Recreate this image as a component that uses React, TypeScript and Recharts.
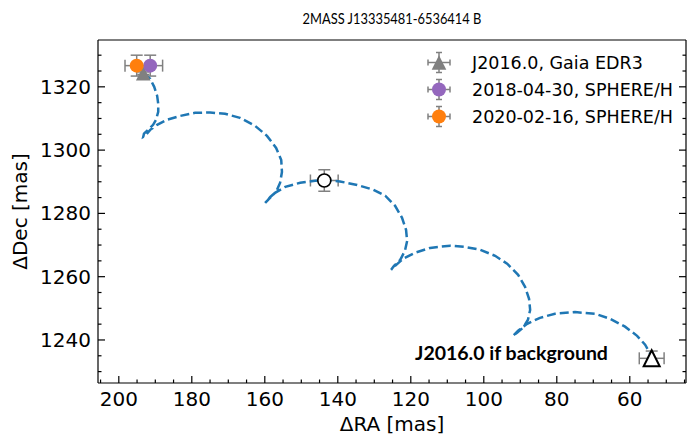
import { ErrorBar, Legend, Scatter, ScatterChart, XAxis, YAxis } from "recharts";

const TITLE = "2MASS J13335481-6536414 B";
const X_LABEL = "ΔRA [mas]";
const Y_LABEL = "ΔDec [mas]";
const NOTE = "J2016.0 if background";

const X_DOMAIN = [44.6, 205.7];
const Y_DOMAIN = [1226.4, 1334.8];
const X_TICKS = [
  205, 200, 195, 190, 185, 180, 175, 170, 165, 160, 155, 150, 145, 140, 135, 130, 125,
  120, 115, 110, 105, 100, 95, 90, 85, 80, 75, 70, 65, 60, 55, 50, 45,
];
const Y_TICKS = [
  1230, 1235, 1240, 1245, 1250, 1255, 1260, 1265, 1270, 1275, 1280, 1285, 1290, 1295,
  1300, 1305, 1310, 1315, 1320, 1325, 1330,
];

// background track (dashed)
const TRACK_RA = [
  193.3, 191.4, 190.3, 189.5, 189.2, 189.2, 189.8, 190.6, 192.0, 193.1, 193.3, 192.8,
  191.4, 189.5, 186.8, 183.2, 179.1, 175.0, 170.9, 166.8, 162.7, 159.4, 156.9, 155.5,
  155.3, 155.8, 156.9, 158.5, 159.9, 159.1, 157.2, 154.4, 150.3, 146.2, 143.8, 139.4,
  134.7, 130.3, 127.0, 124.3, 122.4, 121.3, 121.0, 121.6, 122.9, 124.6, 125.4, 124.3,
  122.1, 118.8, 114.7, 109.2, 105.1, 101.0, 96.9, 93.6, 90.6, 88.7, 87.6, 87.3, 87.9,
  89.2, 90.9, 92.0, 90.6, 88.1, 84.6, 80.5, 75.0, 69.5, 65.4, 61.3, 58.0, 55.8, 54.2,
];
const TRACK_DEC = [
  1324.3, 1322.5, 1320.0, 1317.2, 1314.6, 1312.1, 1309.6, 1308.0, 1306.4, 1305.2, 1304.2,
  1304.5, 1306.4, 1308.0, 1309.6, 1310.8, 1311.8, 1311.9, 1311.5, 1310.2, 1307.7, 1304.5,
  1300.7, 1296.9, 1293.1, 1289.7, 1286.8, 1285.2, 1283.3, 1284.3, 1286.5, 1288.4, 1289.7,
  1290.3, 1290.5, 1290.1, 1289.0, 1287.5, 1285.6, 1282.4, 1278.6, 1274.8, 1271.3, 1268.2,
  1265.3, 1263.4, 1262.2, 1263.4, 1265.7, 1267.6, 1269.1, 1269.8, 1269.4, 1268.5, 1266.6,
  1264.1, 1260.6, 1256.8, 1253.0, 1249.5, 1246.4, 1243.9, 1242.3, 1241.3, 1242.9, 1245.1,
  1247.0, 1248.3, 1248.8, 1248.3, 1246.7, 1244.2, 1241.3, 1238.5, 1235.3,
];

const GAIA = [{ ra: 193.3, dec: 1324.3, raErr: 0.4, decErr: 0.4 }];
const SPHERE_2018 = [{ ra: 191.4, dec: 1326.7, raErr: 3.4, decErr: 3.3 }];
const SPHERE_2020 = [{ ra: 195.1, dec: 1326.7, raErr: 3.2, decErr: 3.3 }];
const BG_2018 = [{ ra: 143.7, dec: 1290.4, raErr: 3.8, decErr: 3.4 }];
const BG_2016 = [{ ra: 54.0, dec: 1234.2, raErr: 3.4, decErr: 2.3 }];

const LEGEND_NAMES = ["J2016.0, Gaia EDR3", "2018-04-30, SPHERE/H", "2020-02-16, SPHERE/H"];

const track = TRACK_RA.map((ra, i) => ({ ra, dec: TRACK_DEC[i] }));

const BLUE = "#1f77b4";
const GREY = "#808080";
const PURPLE = "#9467bd";
const ORANGE = "#ff7f0e";

const isMajor = (v: number) => v % 20 === 0;

// inward ticks, labels only on bottom / left
const makeTick = (side: "bottom" | "top" | "left" | "right") => (props: any) => {
  const { x, y, payload } = props;
  const v = payload.value;
  const len = isMajor(v) ? 7 : 3.5;
  if (side === "bottom" || side === "top") {
    const d = side === "bottom" ? -len : len;
    return (
      <g>
        <line x1={x} x2={x} y1={y} y2={y + d} stroke="#000" strokeWidth={1.2} />
        {side === "bottom" && isMajor(v) && (
          <text x={x} y={y + 9} dy="0.71em" textAnchor="middle" fontSize={20} fill="#000">
            {v}
          </text>
        )}
      </g>
    );
  }
  const d = side === "left" ? len : -len;
  return (
    <g>
      <line x1={x} x2={x + d} y1={y} y2={y} stroke="#000" strokeWidth={1.2} />
      {side === "left" && isMajor(v) && (
        <text x={x - 7} y={y} dy="0.355em" textAnchor="end" fontSize={20} fill="#000">
          {v}
        </text>
      )}
    </g>
  );
};

const Nothing = () => <g />;

const FilledTriangle = ({ cx, cy }: any) => (
  <polygon
    points={`${cx},${cy - 7.3} ${cx - 7.3},${cy + 7.3} ${cx + 7.3},${cy + 7.3}`}
    fill={GREY}
  />
);

const OpenTriangle = ({ cx, cy }: any) => (
  <polygon
    points={`${cx},${cy - 8} ${cx - 8},${cy + 8} ${cx + 8},${cy + 8}`}
    fill="#fff"
    stroke="#000"
    strokeWidth={2}
  />
);

const dot = (fill: string, stroke?: string) => ({ cx, cy }: any) => (
  <circle cx={cx} cy={cy} r={stroke ? 6.5 : 7} fill={fill} stroke={stroke} strokeWidth={1.6} />
);

const legendMarker = (i: number) => {
  const cx = 14;
  const cy = 13.5;
  const bars = (
    <g stroke={GREY} strokeWidth={1.5}>
      <line x1={cx - 11} x2={cx + 11} y1={cy} y2={cy} />
      <line x1={cx - 11} x2={cx - 11} y1={cy - 3} y2={cy + 3} />
      <line x1={cx + 11} x2={cx + 11} y1={cy - 3} y2={cy + 3} />
      <line x1={cx} x2={cx} y1={cy - 10} y2={cy + 10} />
      <line x1={cx - 3} x2={cx + 3} y1={cy - 10} y2={cy - 10} />
      <line x1={cx - 3} x2={cx + 3} y1={cy + 10} y2={cy + 10} />
    </g>
  );
  return (
    <svg width={47} height={27}>
      {bars}
      {i === 0 && <FilledTriangle cx={cx} cy={cy} />}
      {i === 1 && <circle cx={cx} cy={cy} r={7} fill={PURPLE} />}
      {i === 2 && <circle cx={cx} cy={cy} r={7} fill={ORANGE} />}
    </svg>
  );
};

const renderLegend = () => (
  <div>
    {LEGEND_NAMES.map((name, i) => (
      <div key={name} style={{ display: "flex", alignItems: "center", height: 27 }}>
        {legendMarker(i)}
        <span style={{ fontSize: 17.5, whiteSpace: "nowrap", color: "#000" }}>{name}</span>
      </div>
    ))}
  </div>
);

const errorBars = () => [
  <ErrorBar key="ex" dataKey="raErr" direction="x" width={6} stroke={GREY} strokeWidth={1.5} />,
  <ErrorBar key="ey" dataKey="decErr" direction="y" width={6} stroke={GREY} strokeWidth={1.5} />,
];

export default function App() {
  return (
    <div
      style={{
        position: "absolute",
        left: 0,
        top: 0,
        width: 689,
        height: 435,
        background: "#fff",
        fontFamily: "'DejaVu Sans', sans-serif",
      }}
    >
      <div
        style={{
          position: "absolute",
          left: 98,
          width: 588,
          top: 8,
          textAlign: "center",
          fontFamily: "Lato, sans-serif",
          fontSize: 15.5,
          lineHeight: "20px",
          transform: "scaleX(0.83)",
        }}
      >
        {TITLE}
      </div>
      <ScatterChart width={689} height={435} margin={{ top: 39, right: 2, bottom: 51, left: 97 }}>
        <XAxis
          xAxisId="x"
          dataKey="ra"
          type="number"
          domain={X_DOMAIN}
          allowDataOverflow
          reversed
          ticks={X_TICKS}
          interval={0}
          tickLine={false}
          tickSize={0}
          tickMargin={0}
          tick={makeTick("bottom")}
          axisLine={{ stroke: "#000", strokeWidth: 1.2 }}
          height={1}
          label={{
            content: (p: any) => (
              <text
                x={p.viewBox.x + p.viewBox.width / 2}
                y={p.viewBox.y + 41}
                textAnchor="middle"
                dominantBaseline="central"
                fontSize={20}
                fill="#000"
              >
                {X_LABEL}
              </text>
            ),
          }}
        />
        <XAxis
          xAxisId="top"
          orientation="top"
          type="number"
          domain={X_DOMAIN}
          allowDataOverflow
          reversed
          ticks={X_TICKS}
          interval={0}
          tickLine={false}
          tickSize={0}
          tickMargin={0}
          tick={makeTick("top")}
          axisLine={{ stroke: "#000", strokeWidth: 1.2 }}
          height={1}
        />
        <YAxis
          yAxisId="y"
          dataKey="dec"
          type="number"
          domain={Y_DOMAIN}
          allowDataOverflow
          ticks={Y_TICKS}
          interval={0}
          tickLine={false}
          tickSize={0}
          tickMargin={0}
          tick={makeTick("left")}
          axisLine={{ stroke: "#000", strokeWidth: 1.2 }}
          width={1}
          label={{
            content: (p: any) => {
              const x = p.viewBox.x - 77;
              const y = p.viewBox.y + p.viewBox.height / 2;
              return (
                <text
                  x={x}
                  y={y}
                  transform={`rotate(-90 ${x} ${y})`}
                  textAnchor="middle"
                  dominantBaseline="central"
                  fontSize={20}
                  fill="#000"
                >
                  {Y_LABEL}
                </text>
              );
            },
          }}
        />
        <YAxis
          yAxisId="right"
          orientation="right"
          type="number"
          domain={Y_DOMAIN}
          allowDataOverflow
          ticks={Y_TICKS}
          interval={0}
          tickLine={false}
          tickSize={0}
          tickMargin={0}
          tick={makeTick("right")}
          axisLine={{ stroke: "#000", strokeWidth: 1.2 }}
          width={1}
        />
        <Legend
          layout="vertical"
          align="center"
          verticalAlign="middle"
          content={renderLegend}
          wrapperStyle={{ left: 425, top: 49, width: 262 }}
        />
        <Scatter
          xAxisId="x"
          yAxisId="y"
          data={track}
          shape={Nothing}
          legendType="none"
          line={{ stroke: BLUE, strokeWidth: 2.5, strokeDasharray: "9 4" }}
          isAnimationActive={false}
        />
        <Scatter
          xAxisId="x"
          yAxisId="y"
          data={BG_2018}
          shape={dot("#fff", "#000")}
          legendType="none"
          isAnimationActive={false}
        >
          {errorBars()}
        </Scatter>
        <Scatter
          xAxisId="x"
          yAxisId="y"
          data={BG_2016}
          shape={OpenTriangle}
          legendType="none"
          isAnimationActive={false}
        >
          {errorBars()}
        </Scatter>
        <Scatter
          xAxisId="x"
          yAxisId="y"
          name={LEGEND_NAMES[0]}
          data={GAIA}
          shape={FilledTriangle}
          isAnimationActive={false}
        >
          {errorBars()}
        </Scatter>
        <Scatter
          xAxisId="x"
          yAxisId="y"
          name={LEGEND_NAMES[1]}
          data={SPHERE_2018}
          shape={dot(PURPLE)}
          isAnimationActive={false}
        >
          {errorBars()}
        </Scatter>
        <Scatter
          xAxisId="x"
          yAxisId="y"
          name={LEGEND_NAMES[2]}
          data={SPHERE_2020}
          shape={dot(ORANGE)}
          isAnimationActive={false}
        >
          {errorBars()}
        </Scatter>
      </ScatterChart>
      <div
        style={{
          position: "absolute",
          left: 415,
          top: 342,
          fontFamily: "Lato, sans-serif",
          fontWeight: 700,
          fontSize: 19.5,
          lineHeight: "22px",
          whiteSpace: "nowrap",
        }}
      >
        {NOTE}
      </div>
    </div>
  );
}
